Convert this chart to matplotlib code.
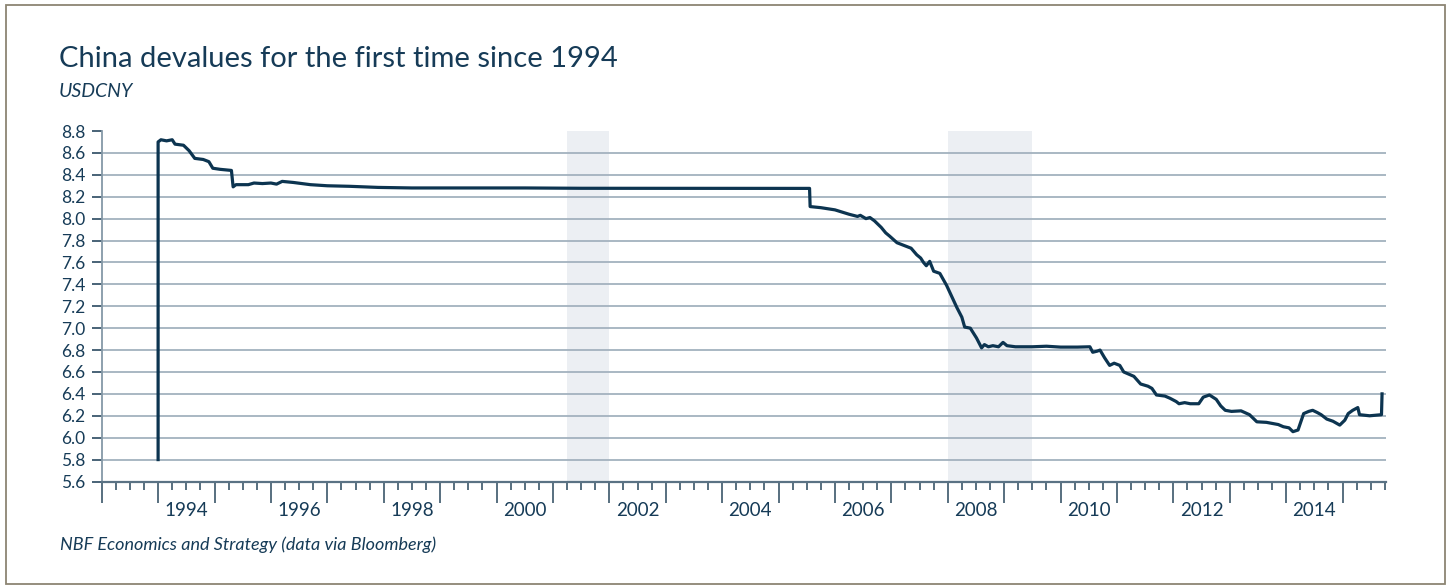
#!/usr/bin/env python3

import matplotlib
matplotlib.use('Agg')
import matplotlib.pyplot as plt
from matplotlib.patches import Rectangle
import numpy as np

# USDCNY, decimal year vs. rate
years = [
    1994.00, 1994.00, 1994.05, 1994.15, 1994.25, 1994.30, 1994.45, 1994.55,
    1994.65, 1994.80, 1994.90, 1994.97, 1995.10, 1995.30, 1995.33, 1995.38,
    1995.60, 1995.70, 1995.85, 1996.00, 1996.10, 1996.20, 1996.40, 1996.70,
    1997.00, 1997.40, 1997.90, 1998.50, 1999.50, 2000.50, 2001.50, 2002.50,
    2003.50, 2004.50, 2005.55, 2005.56, 2005.75, 2006.00, 2006.25, 2006.40,
    2006.45, 2006.55, 2006.62, 2006.70, 2006.82, 2006.90, 2006.97, 2007.10,
    2007.20, 2007.35, 2007.45, 2007.52, 2007.57, 2007.62, 2007.68, 2007.75,
    2007.86, 2007.98, 2008.07, 2008.16, 2008.25, 2008.30, 2008.40, 2008.51,
    2008.60, 2008.65, 2008.72, 2008.80, 2008.90, 2008.98, 2009.05, 2009.20,
    2009.50, 2009.75, 2010.00, 2010.30, 2010.52, 2010.57, 2010.65, 2010.70,
    2010.78, 2010.87, 2010.95, 2011.05, 2011.12, 2011.30, 2011.42, 2011.55,
    2011.62, 2011.70, 2011.85, 2011.94, 2012.05, 2012.10, 2012.20, 2012.30,
    2012.45, 2012.53, 2012.64, 2012.76, 2012.84, 2012.92, 2013.03, 2013.20,
    2013.35, 2013.48, 2013.65, 2013.86, 2013.95, 2014.05, 2014.12, 2014.21,
    2014.27, 2014.31, 2014.40, 2014.47, 2014.55, 2014.62, 2014.72, 2014.83,
    2014.95, 2015.04, 2015.10, 2015.18, 2015.27, 2015.30, 2015.48, 2015.69,
    2015.70,
]
usdcny = [
    5.80, 8.70, 8.72, 8.71, 8.72, 8.68, 8.67, 8.62,
    8.55, 8.54, 8.52, 8.46, 8.45, 8.44, 8.29, 8.31,
    8.31, 8.325, 8.32, 8.325, 8.315, 8.34, 8.33, 8.31,
    8.30, 8.295, 8.285, 8.28, 8.28, 8.28, 8.277, 8.277,
    8.277, 8.276, 8.276, 8.11, 8.10, 8.08, 8.04, 8.02,
    8.03, 8.00, 8.01, 7.98, 7.92, 7.87, 7.84, 7.78,
    7.76, 7.73, 7.67, 7.64, 7.60, 7.57, 7.61, 7.52,
    7.50, 7.39, 7.29, 7.19, 7.10, 7.01, 7.00, 6.91,
    6.82, 6.85, 6.83, 6.84, 6.83, 6.87, 6.84, 6.83,
    6.83, 6.835, 6.827, 6.827, 6.83, 6.78, 6.79, 6.80,
    6.73, 6.66, 6.68, 6.66, 6.60, 6.56, 6.49, 6.47,
    6.45, 6.39, 6.38, 6.36, 6.33, 6.31, 6.32, 6.31,
    6.31, 6.37, 6.39, 6.35, 6.29, 6.25, 6.24, 6.245,
    6.21, 6.145, 6.14, 6.12, 6.10, 6.09, 6.055, 6.07,
    6.16, 6.22, 6.24, 6.25, 6.23, 6.21, 6.17, 6.15,
    6.115, 6.16, 6.22, 6.25, 6.275, 6.21, 6.20, 6.21,
    6.40,
]

# US recessions (shaded)
recessions = [(2001.25, 2002.0), (2008.0, 2009.5)]

year_labels = list(range(1994, 2016, 2))
y_ticks = np.round(np.arange(5.6, 8.81, 0.2), 1)

NAVY = '#0c3450'
TEXT = '#163b57'

plt.rcParams['font.family'] = ['Lato', 'DejaVu Sans']

fig = plt.figure(figsize=(14.49, 5.88), dpi=100)
ax = fig.add_axes([101.7 / 1449, 1 - 481.5 / 588,
                   (1386 - 101.7) / 1449, (481.5 - 131) / 588])

for start, end in recessions:
    ax.axvspan(start, end, color='#eceff3', lw=0, zorder=0)

for v in y_ticks[1:-1]:
    ax.axhline(v, color='#a3b2be', lw=1.3, zorder=1)

ax.plot(years, usdcny, color=NAVY, lw=2.3, zorder=3,
        solid_joinstyle='round')

ax.set_xlim(1993.0, 2015.77)
ax.set_ylim(5.6, 8.8)

ax.set_yticks(y_ticks)
ax.set_yticklabels([f'{v:.1f}' for v in y_ticks])
ax.tick_params(axis='y', direction='out', length=7, width=1.2,
               color='#2a4960', labelsize=12.5, labelcolor=TEXT, pad=5)

ax.set_xticks(np.arange(1993, 2016), labels=[])
ax.set_xticks(np.arange(1993, 2015.8, 0.25), minor=True)
ax.tick_params(axis='x', which='major', direction='out', length=15,
               width=1.2, color='#3b566a')
ax.tick_params(axis='x', which='minor', direction='out', length=6,
               width=1.2, color='#3b566a')

for yr in year_labels:
    ax.text(yr + 0.5, -0.058, str(yr), transform=ax.get_xaxis_transform(),
            ha='center', va='top', fontsize=13.5, color=TEXT)

for side in ('top', 'right'):
    ax.spines[side].set_visible(False)
ax.spines['left'].set_color('#8598a7')
ax.spines['left'].set_linewidth(1.3)
ax.spines['bottom'].set_color('#5a7284')
ax.spines['bottom'].set_linewidth(1.6)
ax.set_facecolor('white')

fig.text(59 / 1449, 1 - 67 / 588, 'China devalues for the first time since 1994',
         fontsize=21, color=TEXT, ha='left', va='baseline')
fig.text(59 / 1449, 1 - 97 / 588, 'USDCNY', fontsize=14, style='italic',
         color=TEXT, ha='left', va='baseline')
fig.text(60 / 1449, 1 - 550 / 588,
         'NBF Economics and Strategy (data via Bloomberg)',
         fontsize=13, style='italic', color=TEXT, ha='left', va='baseline')

fig.patches.append(Rectangle((6.5 / 1449, 4 / 588), (1445 - 6.5) / 1449,
                             (584 - 5) / 588, transform=fig.transFigure,
                             fill=False, edgecolor='#8c8573', lw=1.3))

fig.savefig('out.png', dpi=100)
